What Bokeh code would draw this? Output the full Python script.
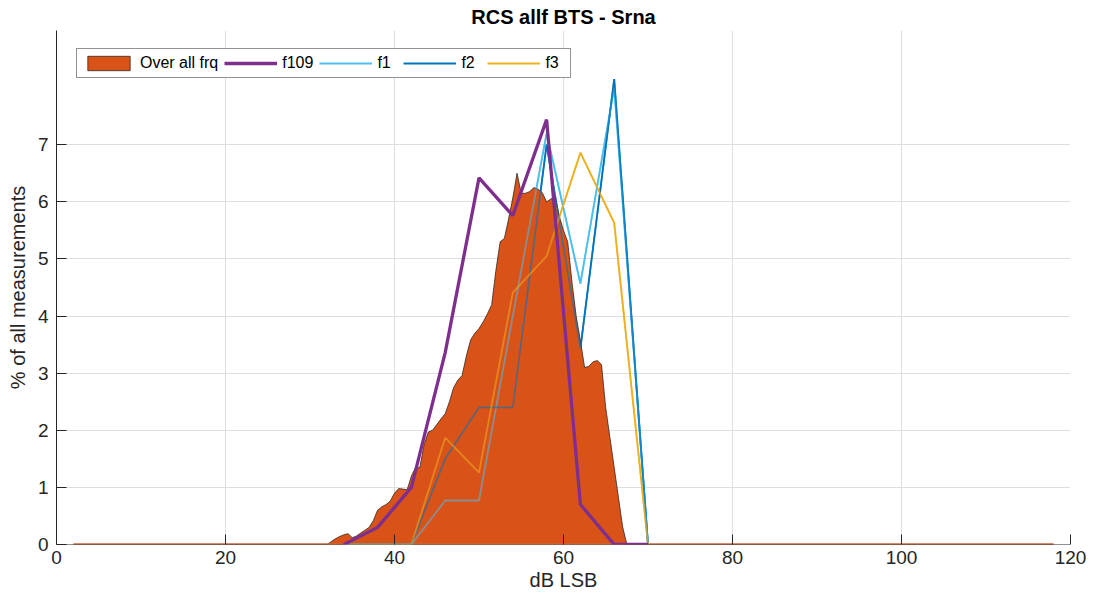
from bokeh.plotting import figure
from bokeh.models import Legend, LegendItem, Span
from bokeh.embed import file_html
from bokeh.resources import INLINE

# RCS histogram data (dB LSB bins vs. % of all measurements)
line_bins = [34, 38, 42, 46, 50, 54, 58, 62, 66, 70]
f109 = [0, 0.3, 1.0, 3.36, 6.42, 5.76, 7.44, 0.7, 0, 0]
f1 = [0, 0, 0, 0.77, 0.77, 4.0, 7.2, 4.57, 8.0, 0]
f2 = [0, 0, 0, 1.5, 2.4, 2.4, 7.0, 3.43, 8.15, 0]
f3 = [0, 0, 0, 1.87, 1.26, 4.41, 5.05, 6.86, 5.63, 0]

overall_x = [2,
             32, 32.5, 33, 33.5, 34, 34.5, 35, 35.5, 36, 36.5, 37, 37.5,
             38, 38.5, 39, 39.5, 40, 40.5, 41, 41.5, 42, 42.5, 43, 43.5,
             44, 44.5, 45, 45.5, 46, 46.5, 47, 47.5, 48, 48.5, 49, 49.5,
             50, 50.5, 51, 51.5, 52, 52.5, 53, 53.5, 54, 54.5, 55, 55.5,
             56, 56.5, 57, 57.5, 58, 58.5, 59, 59.5, 60, 60.5, 61, 61.5,
             62, 62.5, 63, 63.5, 64, 64.5, 65, 65.5, 66, 66.5, 67, 67.5,
             118]
overall_pct = [0,
               0, 0.05, 0.1, 0.14, 0.17, 0.19, 0.12, 0.15, 0.2, 0.25, 0.3, 0.42,
               0.6, 0.66, 0.7, 0.76, 0.9, 0.98, 0.97, 0.96, 1.2, 1.35, 1.35, 1.75,
               1.97, 2.0, 2.1, 2.2, 2.29, 2.5, 2.75, 2.88, 2.96, 3.3, 3.58, 3.7,
               3.78, 3.9, 4.04, 4.2, 4.8, 5.3, 5.36, 5.7, 6.07, 6.5, 6.15, 6.15,
               6.18, 6.25, 6.22, 6.16, 6.0, 6.05, 6.1, 5.75, 5.5, 5.3, 4.6, 4.0,
               3.57, 3.1, 3.12, 3.2, 3.22, 3.15, 2.39, 1.87, 1.35, 0.83, 0.31, 0,
               0]

x_ticks = [0, 20, 40, 60, 80, 100, 120]
y_ticks = [0, 1, 2, 3, 4, 5, 6, 7]

C_ALL = "#D95319"
C_F109 = "#7E2F8E"
C_F1 = "#4DBEEE"
C_F2 = "#0072BD"
C_F3 = "#EDB120"
INK = "#262626"
FONT = "Liberation Sans"

p = figure(width=1093, height=598, x_range=(0, 120), y_range=(0, 9),
           output_backend="svg", toolbar_location=None,
           min_border_left=56, min_border_right=23,
           min_border_top=30, min_border_bottom=54)
p.outline_line_color = None
p.background_fill_color = "white"
p.border_fill_color = "white"

p.title.text = "RCS allf BTS - Srna"
p.title.align = "center"
p.title.text_font = FONT
p.title.text_font_size = "20px"
p.title.text_font_style = "bold"
p.title.text_color = "black"
p.title.standoff = 6

# bottom axis line sits beneath the data
p.add_layout(Span(location=0, dimension="width", line_color=INK,
                  line_width=1, level="underlay"))

# frequency lines underneath the overall area
r_f1 = p.line(line_bins, f1, color=C_F1, line_width=1.8)
r_f2 = p.line(line_bins, f2, color=C_F2, line_width=1.8)
r_f3 = p.line(line_bins, f3, color=C_F3, line_width=1.8)

# overall distribution as a closed area
poly_x = overall_x + [overall_x[-1], overall_x[0]]
poly_y = overall_pct + [0, 0]
r_all = p.patch(poly_x, poly_y, fill_color=C_ALL, line_color="#1a1a1a",
                line_width=0.7)
p.line([overall_x[0], overall_x[-1]], [overall_pct[0], overall_pct[-1]],
       color="#c8643c", line_width=2.5)

# the same lines seen through the area
p.line(line_bins, f1, color=C_F1, line_width=1.8, alpha=0.55)
p.line(line_bins, f2, color=C_F2, line_width=1.8, alpha=0.55)
p.line(line_bins, f3, color=C_F3, line_width=1.8, alpha=0.55)

r_f109 = p.line(line_bins, f109, color=C_F109, line_width=3.3)

# axes
for ax in (p.xaxis[0], p.yaxis[0]):
    ax.axis_line_color = INK
    ax.major_tick_line_color = INK
    ax.major_tick_in = 10
    ax.major_tick_out = 0
    ax.minor_tick_line_color = None
    ax.major_label_text_font = FONT
    ax.major_label_text_font_size = "19px"
    ax.major_label_text_color = INK
    ax.axis_label_text_font = FONT
    ax.axis_label_text_font_size = "20px"
    ax.axis_label_text_font_style = "normal"
    ax.axis_label_text_color = INK
p.xaxis.axis_line_color = None

p.xaxis.ticker = x_ticks
p.yaxis.ticker = y_ticks
p.xaxis.axis_label = "dB LSB"
p.yaxis.axis_label = "% of all measurements"
p.xaxis.major_label_standoff = 6
p.xaxis.axis_label_standoff = 2
p.yaxis.major_label_standoff = 8
p.yaxis.axis_label_standoff = 6

p.xgrid.grid_line_color = "#dedede"
p.ygrid.grid_line_color = "#dedede"

legend = Legend(items=[
    LegendItem(label="Over all frq", renderers=[r_all]),
    LegendItem(label="f109", renderers=[r_f109]),
    LegendItem(label="f1", renderers=[r_f1]),
    LegendItem(label="f2", renderers=[r_f2]),
    LegendItem(label="f3", renderers=[r_f3]),
], location=(20, 466), orientation="horizontal",
    glyph_width=53, glyph_height=18, label_height=18,
    label_standoff=5, spacing=6, padding=5, margin=0,
    border_line_color=INK, border_line_width=1,
    background_fill_color="white", background_fill_alpha=1,
    label_text_font=FONT, label_text_font_size="16px",
    label_text_color="black")
p.add_layout(legend)

open("out.html", "w").write(file_html(p, INLINE))
